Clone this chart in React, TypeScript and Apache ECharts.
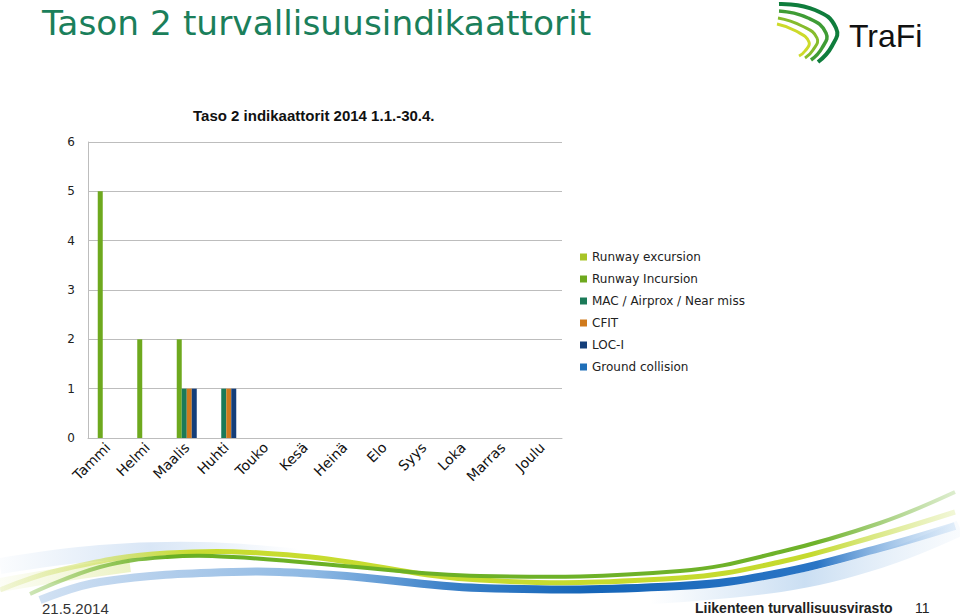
import React, { useEffect, useRef } from "react";
import * as echarts from "echarts";

const months = ["Tammi", "Helmi", "Maalis", "Huhti", "Touko", "Kesä", "Heinä", "Elo", "Syys", "Loka", "Marras", "Joulu"];
const seriesNames = ["Runway excursion", "Runway Incursion", "MAC / Airprox / Near miss", "CFIT", "LOC-I", "Ground collision"];
const runwayExcursion = [0, 0, 0, 0, 0, 0, 0, 0, 0, 0, 0, 0];
const runwayIncursion = [5, 2, 2, 0, 0, 0, 0, 0, 0, 0, 0, 0];
const macAirprox = [0, 0, 1, 1, 0, 0, 0, 0, 0, 0, 0, 0];
const cfit = [0, 0, 1, 1, 0, 0, 0, 0, 0, 0, 0, 0];
const locI = [0, 0, 1, 1, 0, 0, 0, 0, 0, 0, 0, 0];
const groundCollision = [0, 0, 0, 0, 0, 0, 0, 0, 0, 0, 0, 0];
const seriesValues = [runwayExcursion, runwayIncursion, macAirprox, cfit, locI, groundCollision];
const seriesColors = ["#a8c427", "#6ea91e", "#1b7a58", "#d07a1c", "#143e79", "#1f6fb8"];

const slideTitle = "Tason 2 turvallisuusindikaattorit";
const chartTitle = "Taso 2 indikaattorit 2014 1.1.-30.4.";
const footerDate = "21.5.2014";
const footerOrg = "Liikenteen turvallisuusvirasto";
const pageNo = "11";

const FONT = "DejaVu Sans, Verdana, sans-serif";
const LIB = "Liberation Sans, Arial, sans-serif";

function grad(stops: [number, string][]) {
  return new echarts.graphic.LinearGradient(0, 0, 1, 0, stops.map(([offset, color]) => ({ offset, color })));
}

export default function App() {
  const ref = useRef<HTMLDivElement>(null);
  useEffect(() => {
    if (!ref.current) return;
    const chart = echarts.init(ref.current, undefined, { renderer: "svg" });
    const swoosh: any[] = [
      {
        type: "polyline", z: 0,
        shape: { points: [[0, 566], [100, 553], [200, 550], [300, 557]], smooth: 0.4 },
        style: { fill: null, lineWidth: 16, stroke: grad([[0, "rgba(170,200,235,0.05)"], [0.5, "rgba(170,200,235,0.45)"], [1, "rgba(170,200,235,0)"]]) },
      },
      {
        type: "polyline", z: 0,
        shape: { points: [[0, 585], [60, 575], [130, 565]], smooth: 0.4 },
        style: { fill: null, lineWidth: 14, stroke: grad([[0, "rgba(225,235,160,0.1)"], [1, "rgba(225,235,160,0.6)"]]) },
      },
      {
        type: "polyline", z: 0,
        shape: { points: [[650, 596], [780, 584], [880, 560], [960, 528]], smooth: 0.4 },
        style: { fill: null, lineWidth: 16, stroke: grad([[0, "rgba(150,190,230,0)"], [0.5, "rgba(150,190,230,0.5)"], [1, "rgba(190,215,240,0.1)"]]) },
      },
      {
        type: "polyline", z: 1,
        shape: { points: [[40, 600], [100, 582], [233, 572], [333, 575], [480, 588], [680, 586], [780, 573], [880, 548], [955, 526]], smooth: 0.4 },
        style: { fill: null, lineWidth: 8, stroke: grad([[0, "rgba(140,180,225,0.4)"], [0.3, "#8db8e3"], [0.45, "#3a80c8"], [0.6, "#1565b8"], [0.85, "#2a75c5"], [1, "rgba(170,205,240,0.3)"]]) },
      },
      {
        type: "polyline", z: 2,
        shape: { points: [[0, 590], [60, 570], [167, 553], [300, 556], [480, 580], [680, 578], [780, 562], [880, 535], [955, 512]], smooth: 0.4 },
        style: { fill: null, lineWidth: 5, stroke: grad([[0, "rgba(215,228,140,0.3)"], [0.2, "#c8dc30"], [0.85, "#c5da2e"], [1, "rgba(210,228,120,0.3)"]]) },
      },
      {
        type: "polyline", z: 3,
        shape: { points: [[30, 594], [100, 567], [167, 557], [233, 557], [333, 565], [480, 576], [680, 571], [780, 552], [880, 523], [955, 492]], smooth: 0.4 },
        style: { fill: null, lineWidth: 4, stroke: grad([[0, "rgba(130,190,70,0.4)"], [0.15, "#6ab023"], [0.85, "#6fb22a"], [1, "rgba(140,195,90,0.3)"]]) },
      },
    ];
    const logo: any[] = [
      { type: "polyline", shape: { points: [[779, 4], [815, 10], [836, 28], [832, 46], [818, 62]], smooth: 0.5 }, style: { fill: null, stroke: "#0f7d3c", lineWidth: 4 } },
      { type: "polyline", shape: { points: [[779, 11], [808, 18], [826, 33], [822, 48], [811, 60]], smooth: 0.5 }, style: { fill: null, stroke: "#3f9c35", lineWidth: 3.5 } },
      { type: "polyline", shape: { points: [[778, 18], [802, 26], [817, 38], [813, 50], [805, 58]], smooth: 0.5 }, style: { fill: null, stroke: "#86bc2c", lineWidth: 3 } },
      { type: "polyline", shape: { points: [[777, 24], [796, 31], [809, 42], [805, 51], [799, 56]], smooth: 0.5 }, style: { fill: null, stroke: "#cdda2a", lineWidth: 3 } },
      { type: "text", x: 849, y: 36, style: { text: "TraFi", font: "32px " + LIB, fill: "#111", verticalAlign: "middle" } },
    ];
    chart.setOption({
      animation: false,
      backgroundColor: "#ffffff",
      textStyle: { fontFamily: FONT },
      grid: { left: 88, right: 398, top: 142, bottom: 177, containLabel: false },
      legend: {
        orient: "vertical",
        left: 575,
        top: 245,
        itemWidth: 7,
        itemHeight: 7,
        itemGap: 8,
        icon: "rect",
        data: seriesNames,
        textStyle: { fontFamily: FONT, fontSize: 12, color: "#222", lineHeight: 14 },
      },
      xAxis: {
        type: "category",
        data: months,
        axisLine: { show: true, lineStyle: { color: "#bdbdbd", width: 1 } },
        axisTick: { show: false },
        axisLabel: { rotate: 45, interval: 0, margin: 7, fontFamily: FONT, fontSize: 14, color: "#111" },
      },
      yAxis: {
        type: "value",
        min: 0,
        max: 6,
        interval: 1,
        axisLine: { show: true, lineStyle: { color: "#bdbdbd", width: 1 } },
        axisTick: { show: false },
        axisLabel: { margin: 13, fontFamily: FONT, fontSize: 12, color: "#222" },
        splitLine: { show: true, lineStyle: { color: "#bdbdbd", width: 1 } },
      },
      series: seriesNames.map((name, i) => ({
        name,
        type: "bar",
        data: seriesValues[i],
        barGap: "0%",
        barCategoryGap: "24%",
        itemStyle: { color: seriesColors[i] },
      })),
      graphic: [
        ...swoosh,
        ...logo,
        { type: "text", x: 42, y: 23, style: { text: slideTitle, font: "34.4px " + FONT, fill: "#1b7f5b", verticalAlign: "middle" } },
        { type: "text", x: 193, y: 115, style: { text: chartTitle, font: "bold 15px " + LIB, fill: "#111", verticalAlign: "middle" } },
        { type: "text", x: 42, y: 608, style: { text: footerDate, font: "15px " + LIB, fill: "#333", verticalAlign: "middle" } },
        { type: "text", x: 695, y: 608, style: { text: footerOrg, font: "bold 14px " + LIB, fill: "#222", verticalAlign: "middle" } },
        { type: "text", x: 915, y: 608, style: { text: pageNo, font: "14px " + LIB, fill: "#222", verticalAlign: "middle" } },
      ],
    });
    return () => chart.dispose();
  }, []);
  return <div ref={ref} style={{ position: "fixed", left: 0, top: 0, width: 960, height: 615 }} />;
}
